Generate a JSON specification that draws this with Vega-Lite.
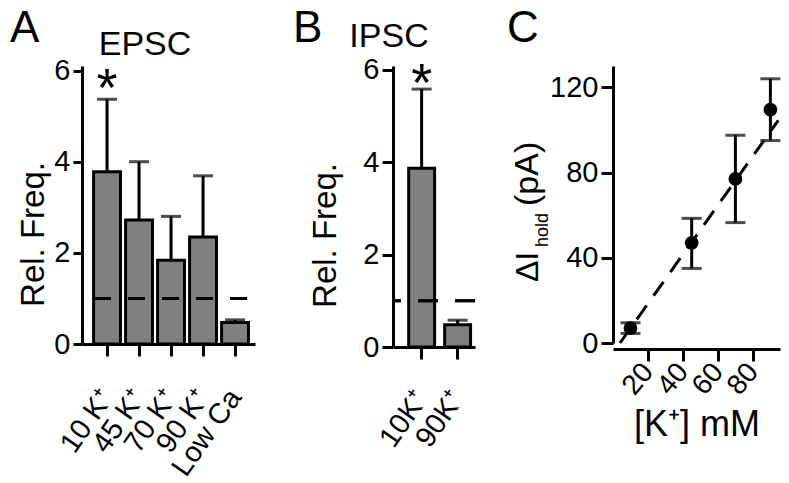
{
  "$schema": "https://vega.github.io/schema/vega-lite/v6.json",
  "padding": {"left": 10, "top": 7, "right": 5, "bottom": 2},
  "background": "white",
  "config": {
    "font": "Liberation Sans",
    "view": {"stroke": null},
    "axis": {
      "domainColor": "black", "domainWidth": 3, "tickColor": "black", "tickWidth": 3,
      "labelColor": "black", "labelFont": "Liberation Sans", "labelFontSize": 29,
      "titleColor": "black", "titleFont": "Liberation Sans", "titleFontSize": 33, "titleFontWeight": "normal",
      "grid": false, "zindex": 1, "labelOverlap": false, "labelBound": false
    },
    "axisY": {"tickSize": 9, "labelPadding": 3, "titlePadding": 3},
    "axisX": {"tickSize": 12},
    "text": {"font": "Liberation Sans", "color": "black"}
  },
  "bounds": "flush",
  "spacing": 138,
  "hconcat": [
    {
      "width": 173, "height": 278,
      "data": {"values": [
        {"cond": "10 K⁺", "mean": 3.78, "upper": 5.37, "sig": "*"},
        {"cond": "45 K⁺", "mean": 2.72, "upper": 4.0, "sig": ""},
        {"cond": "70 K⁺", "mean": 1.84, "upper": 2.8, "sig": ""},
        {"cond": "90 K⁺", "mean": 2.35, "upper": 3.69, "sig": ""},
        {"cond": "Low Ca", "mean": 0.47, "upper": 0.53, "sig": ""}
      ]},
      "encoding": {
        "x": {"field": "cond", "type": "nominal", "sort": null,
              "scale": {"paddingInner": 0.16, "paddingOuter": 0.283, "align": 0.64},
              "axis": {"title": null, "labelAngle": -55, "labelPadding": 36, "labelFontSize": 29}}
      },
      "layer": [
        {"mark": {"type": "bar", "fill": "#808080", "stroke": "black", "strokeWidth": 3},
         "encoding": {"y": {"field": "mean", "type": "quantitative",
           "scale": {"domain": [0, 6.1], "nice": false},
           "axis": {"title": "Rel. Freq.", "values": [0, 2, 4, 6], "titleY": 168}}}},
        {"mark": {"type": "rule", "strokeWidth": 3, "color": "black"},
         "encoding": {"y": {"field": "mean", "type": "quantitative"}, "y2": {"field": "upper"}}},
        {"mark": {"type": "tick", "thickness": 3, "size": 20, "color": "black", "orient": "horizontal"},
         "encoding": {"y": {"field": "upper", "type": "quantitative"}}},
        {"mark": {"type": "rule", "strokeWidth": 3, "color": "black", "strokeDash": [17, 17], "strokeDashOffset": -8},
         "encoding": {"y": {"datum": 1}, "x": null}},
        {"mark": {"type": "text", "fontSize": 54, "baseline": "middle", "dy": -9},
         "encoding": {"y": {"field": "upper", "type": "quantitative"}, "text": {"field": "sig"}}},
        {"data": {"values": [{}]},
         "mark": {"type": "text", "text": "A", "fontSize": 44, "align": "left", "baseline": "alphabetic"},
         "encoding": {"x": {"value": -72}, "y": {"value": -24}}},
        {"data": {"values": [{}]},
         "mark": {"type": "text", "text": "EPSC", "fontSize": 34, "align": "center", "baseline": "alphabetic"},
         "encoding": {"x": {"value": 63}, "y": {"value": -11}}}
      ]
    },
    {
      "width": 82, "height": 281,
      "data": {"values": [
        {"cond": "10K⁺", "mean": 3.87, "upper": 5.58, "sig": "*"},
        {"cond": "90K⁺", "mean": 0.48, "upper": 0.58, "sig": ""}
      ]},
      "encoding": {
        "x": {"field": "cond", "type": "nominal", "sort": null,
              "scale": {"paddingInner": 0.28, "paddingOuter": 0.279, "align": 0.78},
              "axis": {"title": null, "labelAngle": -55, "labelPadding": 34, "labelFontSize": 29}}
      },
      "layer": [
        {"mark": {"type": "bar", "fill": "#808080", "stroke": "black", "strokeWidth": 3},
         "encoding": {"y": {"field": "mean", "type": "quantitative",
           "scale": {"domain": [0, 6.08], "nice": false},
           "axis": {"title": "Rel. Freq.", "values": [0, 2, 4, 6], "tickSize": 11, "titlePadding": 20, "titleY": 169}}}},
        {"mark": {"type": "rule", "strokeWidth": 3, "color": "black"},
         "encoding": {"y": {"field": "mean", "type": "quantitative"}, "y2": {"field": "upper"}}},
        {"mark": {"type": "tick", "thickness": 3, "size": 20, "color": "black", "orient": "horizontal"},
         "encoding": {"y": {"field": "upper", "type": "quantitative"}}},
        {"mark": {"type": "rule", "strokeWidth": 3, "color": "black", "strokeDash": [20, 17]},
         "encoding": {"y": {"datum": 1}, "x": null}},
        {"mark": {"type": "text", "fontSize": 54, "baseline": "middle", "dy": -4},
         "encoding": {"y": {"field": "upper", "type": "quantitative"}, "text": {"field": "sig"}}},
        {"data": {"values": [{}]},
         "mark": {"type": "text", "text": "B", "fontSize": 44, "align": "left", "baseline": "alphabetic"},
         "encoding": {"x": {"value": -100}, "y": {"value": -24}}},
        {"data": {"values": [{}]},
         "mark": {"type": "text", "text": "IPSC", "fontSize": 34, "align": "center", "baseline": "alphabetic"},
         "encoding": {"x": {"value": -4}, "y": {"value": -19}}}
      ]
    },
    {
      "width": 167, "height": 277,
      "layer": [
        {"data": {"values": [{"k": 4, "v": 0}, {"k": 94.5, "v": 104.5}]},
         "mark": {"type": "line", "strokeWidth": 3, "color": "black", "strokeDash": [17, 12]},
         "encoding": {
           "x": {"field": "k", "type": "quantitative", "scale": {"domain": [0, 95.5], "nice": false},
                 "axis": {"title": "[K⁺] mM", "values": [20, 40, 60, 80], "labelAngle": -50, "offset": 6,
                          "labelPadding": 6, "labelFontSize": 28, "titleFontSize": 36, "titlePadding": 8}},
           "y": {"field": "v", "type": "quantitative", "scale": {"domain": [0, 130], "nice": false},
                 "axis": {"title": null, "values": [0, 40, 80, 120], "tickSize": 12}}
         }},
        {"data": {"values": [
           {"k": 10, "mean": 7, "lo": 4.5, "hi": 9.5},
           {"k": 45, "mean": 47, "lo": 35, "hi": 58.5},
           {"k": 70, "mean": 77, "lo": 56.5, "hi": 97.5},
           {"k": 90, "mean": 109.5, "lo": 95, "hi": 124}
         ]},
         "encoding": {"x": {"field": "k", "type": "quantitative"}},
         "layer": [
           {"mark": {"type": "rule", "strokeWidth": 3, "color": "black"},
            "encoding": {"y": {"field": "lo", "type": "quantitative"}, "y2": {"field": "hi"}}},
           {"mark": {"type": "tick", "thickness": 3, "size": 20, "color": "black", "orient": "horizontal"},
            "encoding": {"y": {"field": "lo", "type": "quantitative"}}},
           {"mark": {"type": "tick", "thickness": 3, "size": 20, "color": "black", "orient": "horizontal"},
            "encoding": {"y": {"field": "hi", "type": "quantitative"}}},
           {"mark": {"type": "circle", "size": 190, "opacity": 1, "color": "black"},
            "encoding": {"y": {"field": "mean", "type": "quantitative"}}}
         ]},
        {"data": {"values": [{}]},
         "mark": {"type": "text", "text": "ΔI", "fontSize": 32, "angle": 270, "align": "left", "baseline": "alphabetic"},
         "encoding": {"x": {"value": -75}, "y": {"value": 216}}},
        {"data": {"values": [{}]},
         "mark": {"type": "text", "text": "hold", "fontSize": 18, "angle": 270, "align": "left", "baseline": "alphabetic"},
         "encoding": {"x": {"value": -65}, "y": {"value": 181}}},
        {"data": {"values": [{}]},
         "mark": {"type": "text", "text": "(pA)", "fontSize": 34, "angle": 270, "align": "left", "baseline": "alphabetic"},
         "encoding": {"x": {"value": -75}, "y": {"value": 140}}},
        {"data": {"values": [{}]},
         "mark": {"type": "text", "text": "C", "fontSize": 44, "align": "left", "baseline": "alphabetic"},
         "encoding": {"x": {"value": -106}, "y": {"value": -24}}}
      ]
    }
  ]
}
